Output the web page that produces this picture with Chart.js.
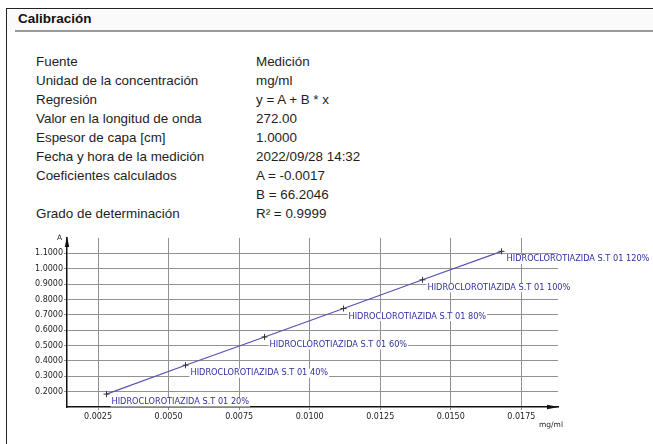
<!DOCTYPE html>
<html>
<head>
<meta charset="utf-8">
<script src="https://cdn.jsdelivr.net/npm/chart.js@4"></script>
<style>
  html, body { margin:0; padding:0; background:#fff; }
  body { width:653px; height:444px; position:relative; overflow:hidden;
         font-family:"Liberation Sans", Arial, sans-serif; color:#222; }
  .frame { position:absolute; left:6px; top:8px; width:647px; height:436px;
           border-left:1.5px solid #222; border-top:1.5px solid #222; }
  .head { position:absolute; left:7px; top:10px; width:646px; height:20px; background:#fafafa; }
  .title { position:absolute; left:18px; top:10.5px; font-weight:bold; font-size:13.5px; color:#111; }
  .rule { position:absolute; left:15px; top:30px; width:638px; height:1.5px; background:#999; }
  .info { position:absolute; top:51.5px; font-size:13.4px; line-height:19.1px; color:#1e1e1e; }
  .info div { white-space:nowrap; height:19.1px; }
  .axisname { position:absolute; font-family:"DejaVu Sans", sans-serif; font-size:7.5px; color:#222; }
  #wrap { position:absolute; left:0; top:228px; width:653px; height:216px; }
</style>
</head>
<body>
<div class="frame"></div>
<div class="head"></div>
<div class="title">Calibración</div>
<div class="rule"></div>

<div class="info" style="left:36px" id="infoKeys"></div>
<div class="info" style="left:256px" id="infoVals"></div>

<div id="wrap"><canvas id="calChart" width="653" height="216"></canvas></div>
<div class="axisname" style="left:57px; top:233px;">A</div>
<div class="axisname" style="left:539px; top:420px;">mg/ml</div>

<script>
/* ==========================
   DATA
========================== */

const infoKeys = [
    "Fuente",
    "Unidad de la concentración",
    "Regresión",
    "Valor en la longitud de onda",
    "Espesor de capa [cm]",
    "Fecha y hora de la medición",
    "Coeficientes calculados",
    "",
    "Grado de determinación"
];

const infoVals = [
    "Medición",
    "mg/ml",
    "y = A + B * x",
    "272.00",
    "1.0000",
    "2022/09/28 14:32",
    "A = -0.0017",
    "B = 66.2046",
    "R² = 0.9999"
];

const concentrations = [0.0028, 0.0056, 0.0084, 0.0112, 0.0140, 0.0168];
const absorbances    = [0.184, 0.372, 0.556, 0.741, 0.928, 1.113];

const pointLabels = [
    "HIDROCLOROTIAZIDA S.T 01 20%",
    "HIDROCLOROTIAZIDA S.T 01 40%",
    "HIDROCLOROTIAZIDA S.T 01 60%",
    "HIDROCLOROTIAZIDA S.T 01 80%",
    "HIDROCLOROTIAZIDA S.T 01 100%",
    "HIDROCLOROTIAZIDA S.T 01 120%"
];

const xTicks = [0.0025, 0.0050, 0.0075, 0.0100, 0.0125, 0.0150, 0.0175];
const yTicks = [0.2, 0.3, 0.4, 0.5, 0.6, 0.7, 0.8, 0.9, 1.0, 1.1];

/* ==========================
   INFO BLOCK
========================== */

document.getElementById("infoKeys").innerHTML =
    infoKeys.map(t => "<div>" + t + "</div>").join("");
document.getElementById("infoVals").innerHTML =
    infoVals.map(t => "<div>" + t + "</div>").join("");

/* ==========================
   PLUGINS
========================== */

const pointTags = {
    id:"pointTags",
    afterDatasetsDraw(chart){
        const ctx = chart.ctx;
        const meta = chart.getDatasetMeta(0);
        ctx.save();
        ctx.font = "8.2px 'DejaVu Sans'";
        ctx.textBaseline = "middle";
        meta.data.forEach((pt, i) => {
            const x = pt.x + 5;
            const y = pt.y + 8;
            const w = ctx.measureText(pointLabels[i]).width;
            ctx.fillStyle = "#fff";
            ctx.fillRect(x - 1, y - 4.5, w + 2, 9);
            ctx.fillStyle = "#3030a0";
            ctx.fillText(pointLabels[i], x, y);
        });
        ctx.restore();
    }
};

const axisArrows = {
    id:"axisArrows",
    afterDraw(chart){
        const ctx = chart.ctx;
        const a = chart.chartArea;
        ctx.save();
        ctx.fillStyle = "#111";
        // y arrow
        ctx.beginPath();
        ctx.moveTo(a.left, a.top - 2);
        ctx.lineTo(a.left - 2.2, a.top + 9);
        ctx.lineTo(a.left + 2.2, a.top + 9);
        ctx.closePath();
        ctx.fill();
        // x arrow
        ctx.beginPath();
        ctx.moveTo(a.right + 1, a.bottom);
        ctx.lineTo(a.right - 11, a.bottom - 2.2);
        ctx.lineTo(a.right - 11, a.bottom + 2.2);
        ctx.closePath();
        ctx.fill();
        ctx.restore();
    }
};

/* ==========================
   CHART
========================== */

const tickFont = { family:"DejaVu Sans", size:8 };

new Chart(document.getElementById("calChart"),{

    type:"scatter",

    data:{
        datasets:[{
            data: concentrations.map((c, i) => ({ x:c, y:absorbances[i] })),
            showLine:true,
            borderColor:"#5252b2",
            borderWidth:1.2,
            pointStyle:"cross",
            pointRadius:3,
            pointBorderColor:"#333",
            pointBorderWidth:1,
            pointBackgroundColor:"#333"
        }]
    },

    options:{
        responsive:false,
        animation:false,
        layout:{ padding:{ top:10, right:95, left:0, bottom:0 } },
        plugins:{
            legend:{ display:false },
            tooltip:{ enabled:false }
        },
        scales:{
            x:{
                type:"linear",
                min:0.0014,
                max:0.0188,
                afterBuildTicks: s => { s.ticks = xTicks.map(v => ({ value:v })); },
                afterFit: s => { s.height = 37; },
                grid:{ color:"#929292", lineWidth:1, tickLength:3 },
                border:{ color:"#111", width:1.5 },
                ticks:{
                    font:tickFont, color:"#222", padding:2.5, maxRotation:0,
                    callback: v => Number(v).toFixed(4)
                }
            },
            y:{
                min:0.1,
                max:1.2,
                afterBuildTicks: s => { s.ticks = yTicks.map(v => ({ value:v })); },
                afterFit: s => { s.width = 67; },
                grid:{ color:"#929292", lineWidth:1, tickLength:3 },
                border:{ color:"#111", width:1.5 },
                ticks:{
                    font:tickFont, color:"#222", padding:1,
                    callback: v => Number(v).toFixed(4)
                }
            }
        }
    },

    plugins:[pointTags, axisArrows]

});
</script>
</body>
</html>
